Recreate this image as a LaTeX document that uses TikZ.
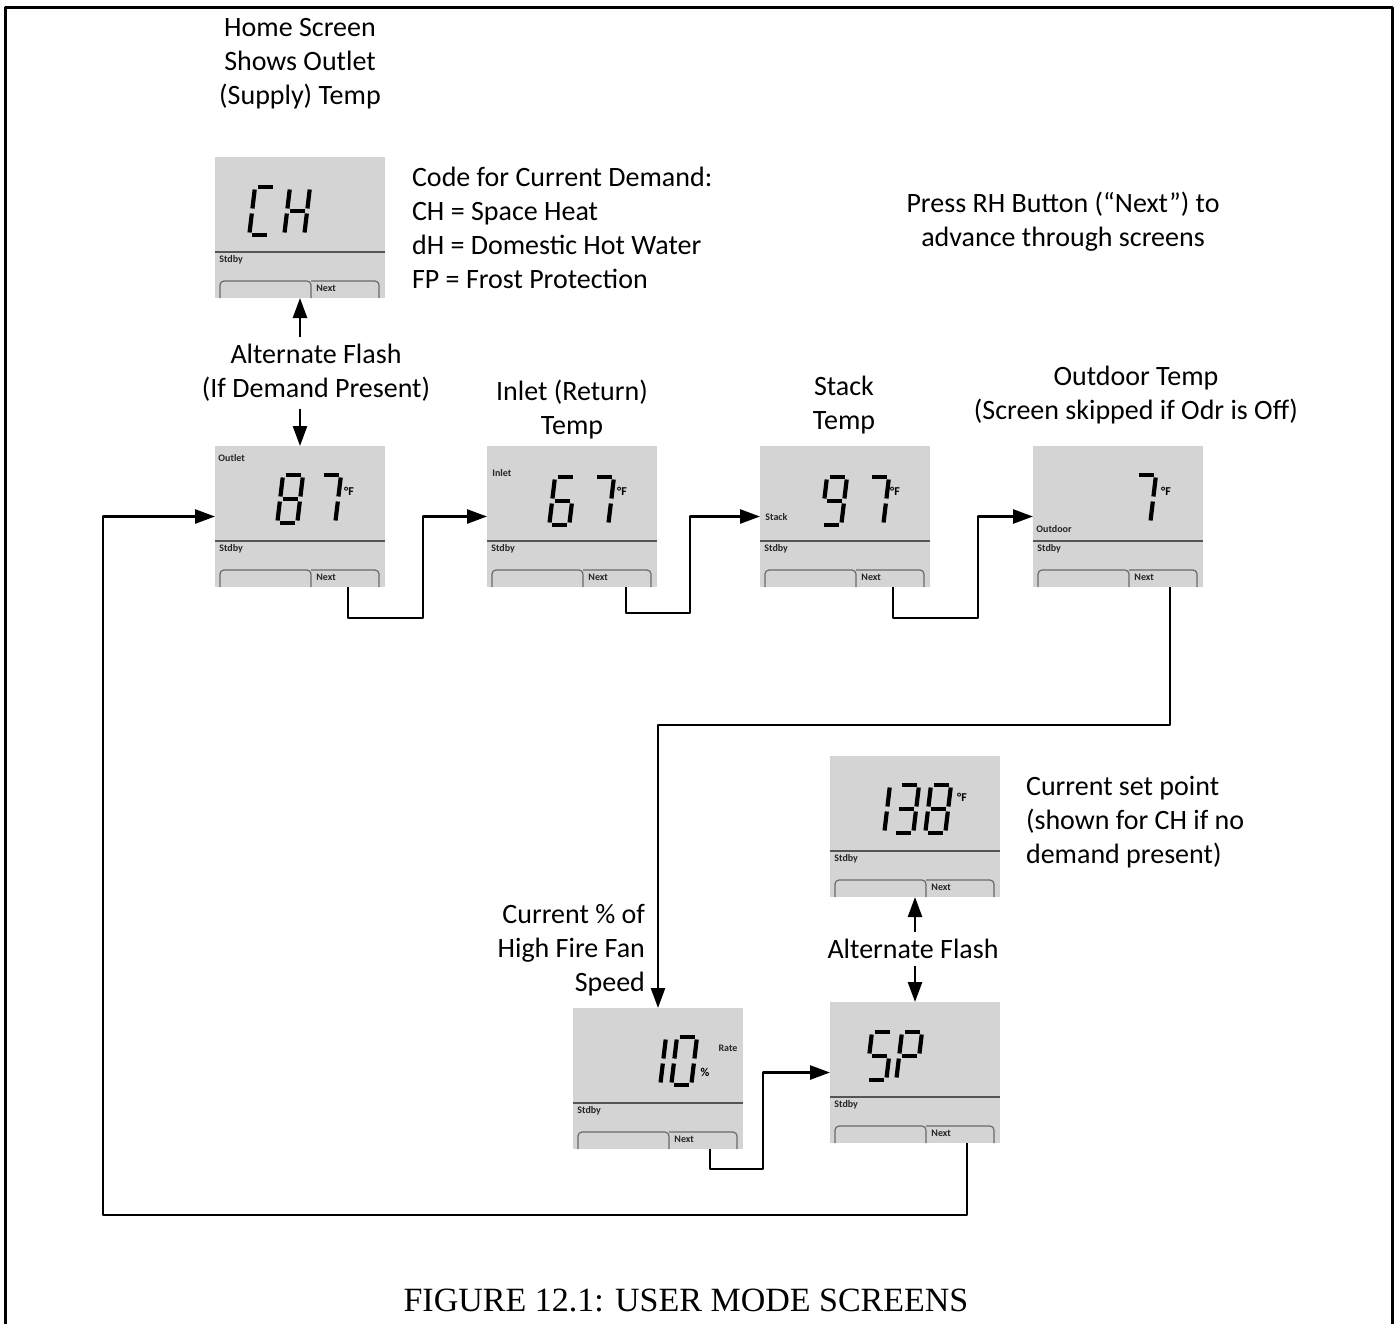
\documentclass[tikz,border=0pt]{standalone}
\usepackage{fontspec}
\setmainfont{Carlito}
\newfontfamily\capfont{Liberation Serif}
\usepackage{xcolor}
\usetikzlibrary{arrows.meta,calc}

\definecolor{lcdgray}{RGB}{212,212,212}
\definecolor{lcdline}{RGB}{85,85,85}
\definecolor{btnline}{RGB}{105,105,105}

% seven segment pieces, cell 20 x 48 px, origin top left
\def\sga{(2.5,0)--(17.5,0)}
\def\sgb{(20,2.5)--(20,21.5)}
\def\sgc{(20,26.5)--(20,45.5)}
\def\sgd{(2.5,48)--(17.5,48)}
\def\sge{(0,26.5)--(0,45.5)}
\def\sgf{(0,2.5)--(0,21.5)}
\def\sgg{(2.5,24)--(17.5,24)}
\newcommand{\lcdchar}[3]{%
  \begin{scope}[shift={(#1,#2)},xslant=0.12]
    \foreach \s in {#3}{\edef\segpath{\noexpand\draw[seg] \csname sg\s\endcsname;}\segpath}
  \end{scope}}
% divider, buttons and small captions of one screen
\newcommand{\lcdparts}[1]{%
  \draw[lcdline,line width=1pt] ($(#1.north west)+(0,95)$) -- ($(#1.north east)+(0,95)$);
  \draw[btnline,line width=0.6pt,rounded corners=2pt] ($(#1.south west)+(5,0)$) |- ($(#1.north west)+(96,124)$) -- ($(#1.south west)+(96,0)$);
  \draw[btnline,line width=0.6pt,rounded corners=2pt] ($(#1.north west)+(96,124)$) -| ($(#1.south west)+(164,0)$);
  \node[tiny,anchor=west] (#1-sb) at ($(#1.north west)+(4,103)$) {Stdby};
  \node[tiny,anchor=west] (#1-nx) at ($(#1.north west)+(101,131)$) {Next};
}

\begin{document}
\begin{tikzpicture}[x=0.5pt, y=-0.5pt, >=Stealth, line join=round,
  screen/.style={fill=lcdgray, minimum width=85pt, minimum height=70.5pt, inner sep=0pt, outer sep=0pt, anchor=north west},
  seg/.style={line width=2.1pt, black},
  tiny/.style={font=\fontsize{5}{6}\selectfont\bfseries, inner sep=0pt, text=black!85},
  deg/.style={font=\fontsize{6}{7}\selectfont\bfseries, inner sep=0pt},
  lbl/.style={align=center, font=\fontsize{14}{17}\selectfont},
  flow/.style={line width=1.3pt, -{Triangle[length=10pt,width=7pt]}}]
  \useasboundingbox (0,0) rectangle (1395,1323);
  \draw[line width=1.5pt] (5.5,1340) -- (5.5,7.5) -- (1392.5,7.5) -- (1392.5,1340);

  % screens
  \node[screen] (sCH) at (215,157) {};
  \node[screen] (s87) at (215,446) {};
  \node[screen] (s67) at (487,446) {};
  \node[screen] (s97) at (760,446) {};
  \node[screen] (s7) at (1033,446) {};
  \node[screen] (s138) at (830,756) {};
  \node[screen] (s10) at (573,1008) {};
  \node[screen] (sSP) at (830,1002) {};
  \foreach \sc in {sCH,s87,s67,s97,s7,s138,s10,sSP}{\lcdparts{\sc}}

  \node[tiny,anchor=west] (s87-top) at ($(s87.north west)+(3,12)$) {Outlet};
  \node[tiny,anchor=west] (s67-top) at ($(s67.north west)+(5,27)$) {Inlet};
  \node[tiny,anchor=west] (s97-top) at ($(s97.north west)+(5,71)$) {Stack};
  \node[tiny,anchor=west] (s7-top) at ($(s7.north west)+(3,83)$) {Outdoor};
  \node[tiny] (s10-top) at ($(s10.north west)+(155,40)$) {Rate};

  \lcdchar{255}{187}{a,d,e,f}
  \lcdchar{290}{187}{b,c,e,f,g}
  \lcdchar{283}{475}{a,b,c,d,e,f,g}
  \lcdchar{321}{475}{a,b,c}
  \lcdchar{555}{477}{a,c,d,e,f,g}
  \lcdchar{594}{477}{a,b,c}
  \lcdchar{827}{477}{a,b,c,d,f,g}
  \lcdchar{869}{477}{a,b,c}
  \lcdchar{1136}{475}{a,b,c}
  \lcdchar{870}{785}{b,c}
  \lcdchar{899}{785}{a,b,c,d,g}
  \lcdchar{931}{785}{a,b,c,d,e,f,g}
  \lcdchar{646}{1037}{b,c}
  \lcdchar{677}{1037}{a,b,c,d,e,f}
  \lcdchar{872}{1032}{a,c,d,f,g}
  \lcdchar{902}{1032}{a,b,e,f,g}
  \node[deg] (u87) at (349,491) {°F};
  \node[deg] (u67) at (622,491) {°F};
  \node[deg] (u97) at (895,491) {°F};
  \node[deg] (u7) at (1166,491) {°F};
  \node[deg] (u138) at (962,797) {°F};
  \node[deg] (u10) at (705,1072) {\%};

  % texts
  \node[lbl] (home) at (300,64) {Home Screen\\Shows Outlet\\(Supply) Temp};
  \node[lbl,align=left,anchor=west] (code) at (405,228) {Code for Current Demand:\\CH = Space Heat\\dH = Domestic Hot Water\\FP = Frost Protection};
  \node[lbl] (press) at (1063,222) {Press RH Button (“Next”) to\\advance through screens};
  \node[lbl] (altA) at (316,373) {Alternate Flash\\(If Demand Present)};
  \node[lbl] (tInlet) at (572,410) {Inlet (Return)\\Temp};
  \node[lbl] (tStack) at (844,405) {Stack\\Temp};
  \node[lbl] (tOdr) at (1136,395) {Outdoor Temp\\(Screen skipped if Odr is Off)};
  \node[lbl,align=left,anchor=west] (tSet) at (1019,822) {Current set point\\(shown for CH if no\\demand present)};
  \node[lbl,align=right,anchor=east] (tRate) at (652,950) {Current \% of\\High Fire Fan\\Speed};
  \node[lbl] (altB) at (913,949) {Alternate Flash};
  \node[font=\capfont\fontsize{17}{20}\selectfont] (cap) at (686,1300) {FIGURE 12.1: USER MODE SCREENS};

  % connectors
  \coordinate (n87) at ($(s87.south west)+(133,0)$);
  \coordinate (n67) at ($(s67.south west)+(139,0)$);
  \coordinate (n97) at ($(s97.south west)+(133,0)$);
  \coordinate (n7) at ($(s7.south west)+(137,0)$);
  \coordinate (n10) at ($(s10.south west)+(137,0)$);
  \coordinate (nSP) at ($(sSP.south west)+(137,0)$);
  \draw[flow] (altA.north -| sCH.south) -- (sCH.south);
  \draw[flow] (altA.south -| s87.north) -- (s87.north);
  \draw[flow] (altB.north -| s138.south) -- (s138.south);
  \draw[flow] (altB.south -| sSP.north) -- (sSP.north);
  \draw[flow] (n87) -- ++(0,31) -| ($(s67.west)+(-64,0)$) -- (s67.west);
  \draw[flow] (n67) -- ++(0,26) -| ($(s97.west)+(-70,0)$) -- (s97.west);
  \draw[flow] (n97) -- ++(0,31) -| ($(s7.west)+(-55,0)$) -- (s7.west);
  \draw[flow] (n7) -- ++(0,138) -| (s10.north);
  \draw[flow] (n10) -- ++(0,20) -| ($(sSP.west)+(-67,0)$) -- (sSP.west);
  \draw[flow] (nSP) -- ++(0,72) -| ($(s87.west)+(-112,0)$) -- (s87.west);
\end{tikzpicture}
\end{document}
